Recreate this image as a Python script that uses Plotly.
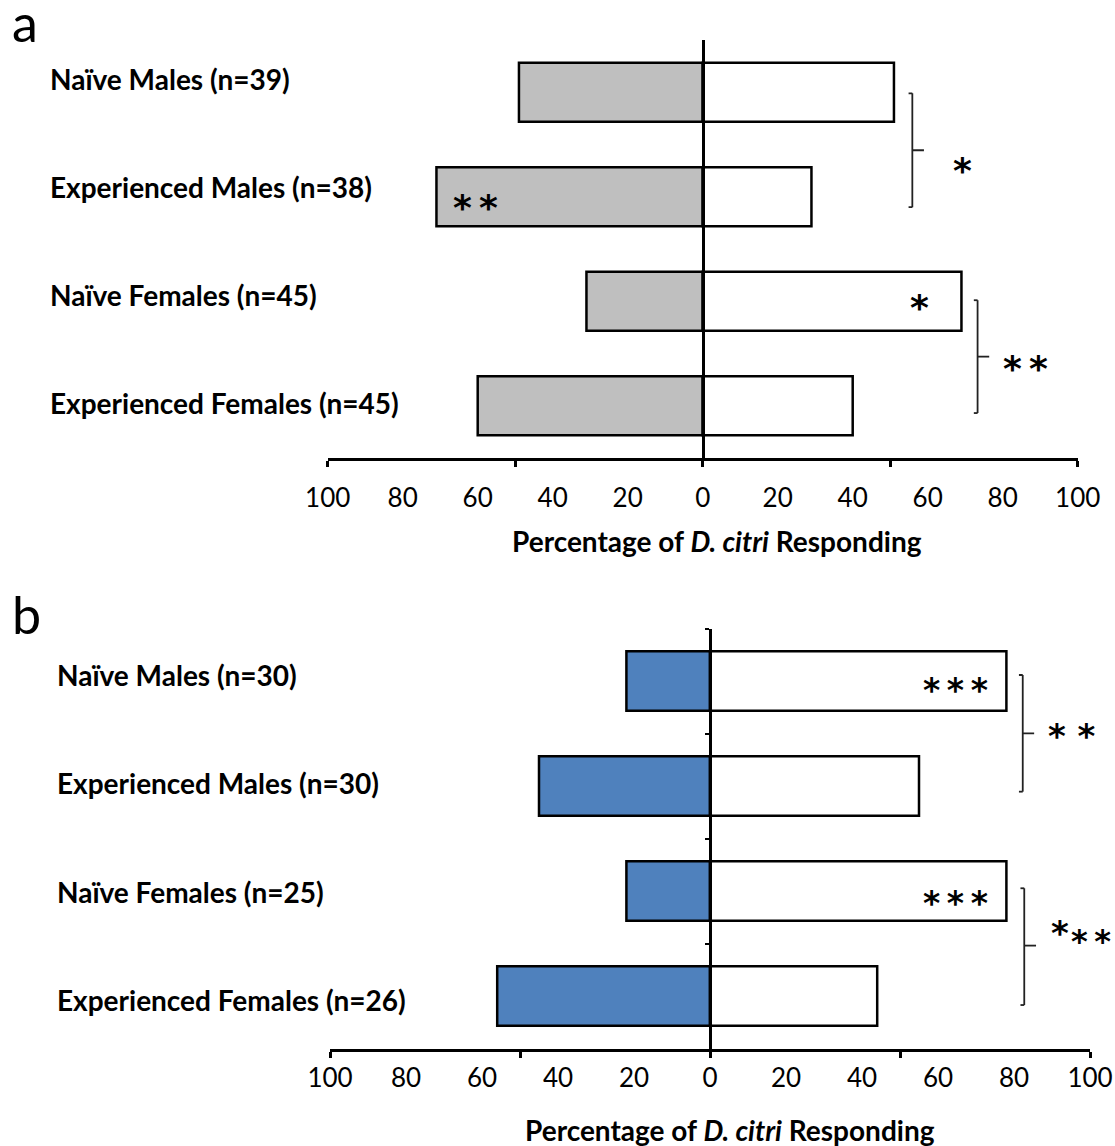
import plotly.graph_objects as go

# ---------------- data ----------------
categories_a = ["Naïve Males (n=39)", "Experienced Males (n=38)",
                "Naïve Females (n=45)", "Experienced Females (n=45)"]
left_a = [49, 71, 31, 60]     # % responding to left stimulus (grey)
right_a = [51, 29, 69, 40]    # % responding to right stimulus (white)

categories_b = ["Naïve Males (n=30)", "Experienced Males (n=30)",
                "Naïve Females (n=25)", "Experienced Females (n=26)"]
left_b = [22, 45, 22, 56]     # % responding (blue)
right_b = [78, 55, 78, 44]    # % responding (white)

tick_values = [-100, -80, -60, -40, -20, 0, 20, 40, 60, 80, 100]
tick_labels = [str(abs(v)) for v in tick_values]
major_ticks = [-100, -50, 0, 50, 100]

axis_title = "<b>Percentage of <i>D. citri</i> Responding</b>"

# ---------------- layout constants ----------------
W, H = 1115, 1146
FONT = "Lato"

def px_x(p):
    return p / W

def px_y(p):
    return 1 - p / H

a_x0, a_x1, a_y0, a_y1 = 327.7, 1077.7, 40, 458
b_x0, b_x1, b_y0, b_y1 = 330, 1090, 628.5, 1048.5

GREY = "#BFBFBF"
BLUE = "#4F81BD"

fig = go.Figure()

def add_panel(cats, left, right, color, xa, ya, xlab):
    fig.add_trace(go.Bar(y=cats, x=[-v for v in left], orientation="h",
                         marker=dict(color=color, line=dict(color="black", width=2.5)),
                         xaxis=xa, yaxis=ya, showlegend=False, hoverinfo="skip"))
    fig.add_trace(go.Bar(y=cats, x=right, orientation="h",
                         marker=dict(color="white", line=dict(color="black", width=2.5)),
                         xaxis=xa, yaxis=ya, showlegend=False, hoverinfo="skip"))
    # invisible trace so the overlaid tick-label axis is rendered
    fig.add_trace(go.Scatter(x=[0], y=[cats[0]], mode="markers", marker=dict(opacity=0, size=1),
                             xaxis=xlab, yaxis=ya, showlegend=False, hoverinfo="skip"))

add_panel(categories_a, left_a, right_a, GREY, "x", "y", "x3")
add_panel(categories_b, left_b, right_b, BLUE, "x2", "y2", "x4")

common_x = dict(range=[-100, 100], showgrid=False, zeroline=False, fixedrange=True, automargin=False)

fig.update_layout(
    width=W, height=H, autosize=False,
    margin=dict(l=0, r=0, t=0, b=0, pad=0, autoexpand=False),
    paper_bgcolor="white", plot_bgcolor="rgba(0,0,0,0)",
    barmode="relative", bargap=0.435,
    font=dict(family=FONT, color="black"),
    xaxis=dict(domain=[px_x(a_x0), px_x(a_x1)], anchor="y", showline=True, linecolor="black",
               linewidth=3, ticks="outside", tickvals=major_ticks, ticklen=6, tickwidth=3,
               tickcolor="black", showticklabels=False, **common_x),
    xaxis3=dict(overlaying="x", anchor="y", side="bottom", showline=False, tickvals=tick_values,
                ticktext=tick_labels, ticks="outside", ticklen=17, tickcolor="rgba(0,0,0,0)",
                tickfont=dict(family=FONT, size=26, color="black"), **common_x),
    yaxis=dict(domain=[px_y(a_y1), px_y(a_y0)], anchor="free", position=px_x(702.7),
               type="category", range=[3.5, -0.5], showline=True, linecolor="black", linewidth=3,
               ticks="", showticklabels=False, showgrid=False, zeroline=False, fixedrange=True,
               automargin=False),
    xaxis2=dict(domain=[px_x(b_x0), px_x(b_x1)], anchor="y2", showline=True, linecolor="black",
                linewidth=3, ticks="outside", tickvals=major_ticks, ticklen=6, tickwidth=3,
                tickcolor="black", showticklabels=False, **common_x),
    xaxis4=dict(overlaying="x2", anchor="y2", side="bottom", showline=False, tickvals=tick_values,
                ticktext=tick_labels, ticks="outside", ticklen=6, tickcolor="rgba(0,0,0,0)",
                tickfont=dict(family=FONT, size=26, color="black"), **common_x),
    yaxis2=dict(domain=[px_y(b_y1), px_y(b_y0)], anchor="free", position=px_x(710),
                type="category", range=[3.5, -0.5], showline=True, linecolor="black", linewidth=3,
                ticks="outside", tickson="boundaries", ticklen=4, tickwidth=2, tickcolor="black",
                showticklabels=False, showgrid=False, zeroline=False, fixedrange=True,
                automargin=False),
)

ann = []
LABEL_FONT = dict(family=FONT, size=28, color="black")
label_off_a = [-0.131, -0.089, -0.057, -0.026]
label_off_b = [-0.057, -0.026, 0.007, 0.038]
for i, c in enumerate(categories_a):
    ann.append(dict(text="<b>%s</b>" % c, x=px_x(48), xref="paper", y=i + label_off_a[i], yref="y",
                    xanchor="left", yanchor="middle", showarrow=False, font=LABEL_FONT))
for i, c in enumerate(categories_b):
    ann.append(dict(text="<b>%s</b>" % c, x=px_x(55), xref="paper", y=i + label_off_b[i], yref="y2",
                    xanchor="left", yanchor="middle", showarrow=False, font=LABEL_FONT))

ann.append(dict(text=axis_title, x=px_x(716.5), y=px_y(541), xref="paper", yref="paper",
                showarrow=False, xanchor="center", yanchor="middle", font=LABEL_FONT))
ann.append(dict(text=axis_title, x=px_x(730), y=px_y(1130), xref="paper", yref="paper",
                showarrow=False, xanchor="center", yanchor="middle", font=LABEL_FONT))

ann.append(dict(text="a", x=px_x(10), y=px_y(22), xref="paper", yref="paper", showarrow=False,
                xanchor="left", yanchor="middle", font=dict(family=FONT, size=52, color="black")))
ann.append(dict(text="b", x=px_x(10), y=px_y(614), xref="paper", yref="paper", showarrow=False,
                xanchor="left", yanchor="middle", font=dict(family=FONT, size=52, color="black")))

# significance marks: (text, x, xref, y, yref, size)
T = "\u2009"
stars = [
    ("*" + T + "*", -60.5, "x", 1.04, "y", 36),
    ("*", 57.9, "x", 1.99, "y", 36),
    ("*", 69.3, "x", 0.68, "y", 36),
    ("*" + T + "*", 86.1, "x", 2.58, "y", 36),
    ("*" + T + "*" + T + "*", 64.5, "x2", 0.02, "y2", 33),
    ("*" + T + "*" + T + "*", 64.5, "x2", 2.05, "y2", 33),
    ("* *", px_x(1071.7), "paper", 0.457, "y2", 34),
    ("*", px_x(1060), "paper", 2.33, "y2", 34),
    ("*" + T + "*", px_x(1090.5), "paper", 2.41, "y2", 32),
]
for t, x, xr, y, yr, sz in stars:
    ann.append(dict(text=t, x=x, y=y, xref=xr, yref=yr, showarrow=False, xanchor="center",
                    yanchor="middle", yshift=-7,
                    font=dict(family="DejaVu Sans", size=sz, color="black", weight="bold")))

fig.update_layout(annotations=ann)

# brackets: (x_vertical, y_top, y_bottom, y_mid, x_tick_end, axes)
brackets = [
    (55.9, 0.01, 1.10, 0.555, 59.0, "x", "y"),
    (73.3, 1.99, 3.07, 2.53, 76.4, "x", "y"),
    (82.3, -0.057, 1.054, 0.498, 85.3, "x2", "y2"),
    (82.7, 1.974, 3.086, 2.52, 85.8, "x2", "y2"),
]
shapes = []
LINE = dict(color="#222222", width=1.8)
for xv, yt, yb, ym, xt, xr, yr in brackets:
    hook = 1.0
    for (x0, y0, x1, y1) in [(xv, yt, xv, yb), (xv - hook, yt, xv, yt),
                             (xv - hook, yb, xv, yb), (xv, ym, xt, ym)]:
        shapes.append(dict(type="line", x0=x0, y0=y0, x1=x1, y1=y1, xref=xr, yref=yr, line=LINE))
fig.update_layout(shapes=shapes)

fig.write_html("out.html", config={"displayModeBar": False},
               post_script="document.body.style.margin='0';document.body.style.overflow='hidden';")
